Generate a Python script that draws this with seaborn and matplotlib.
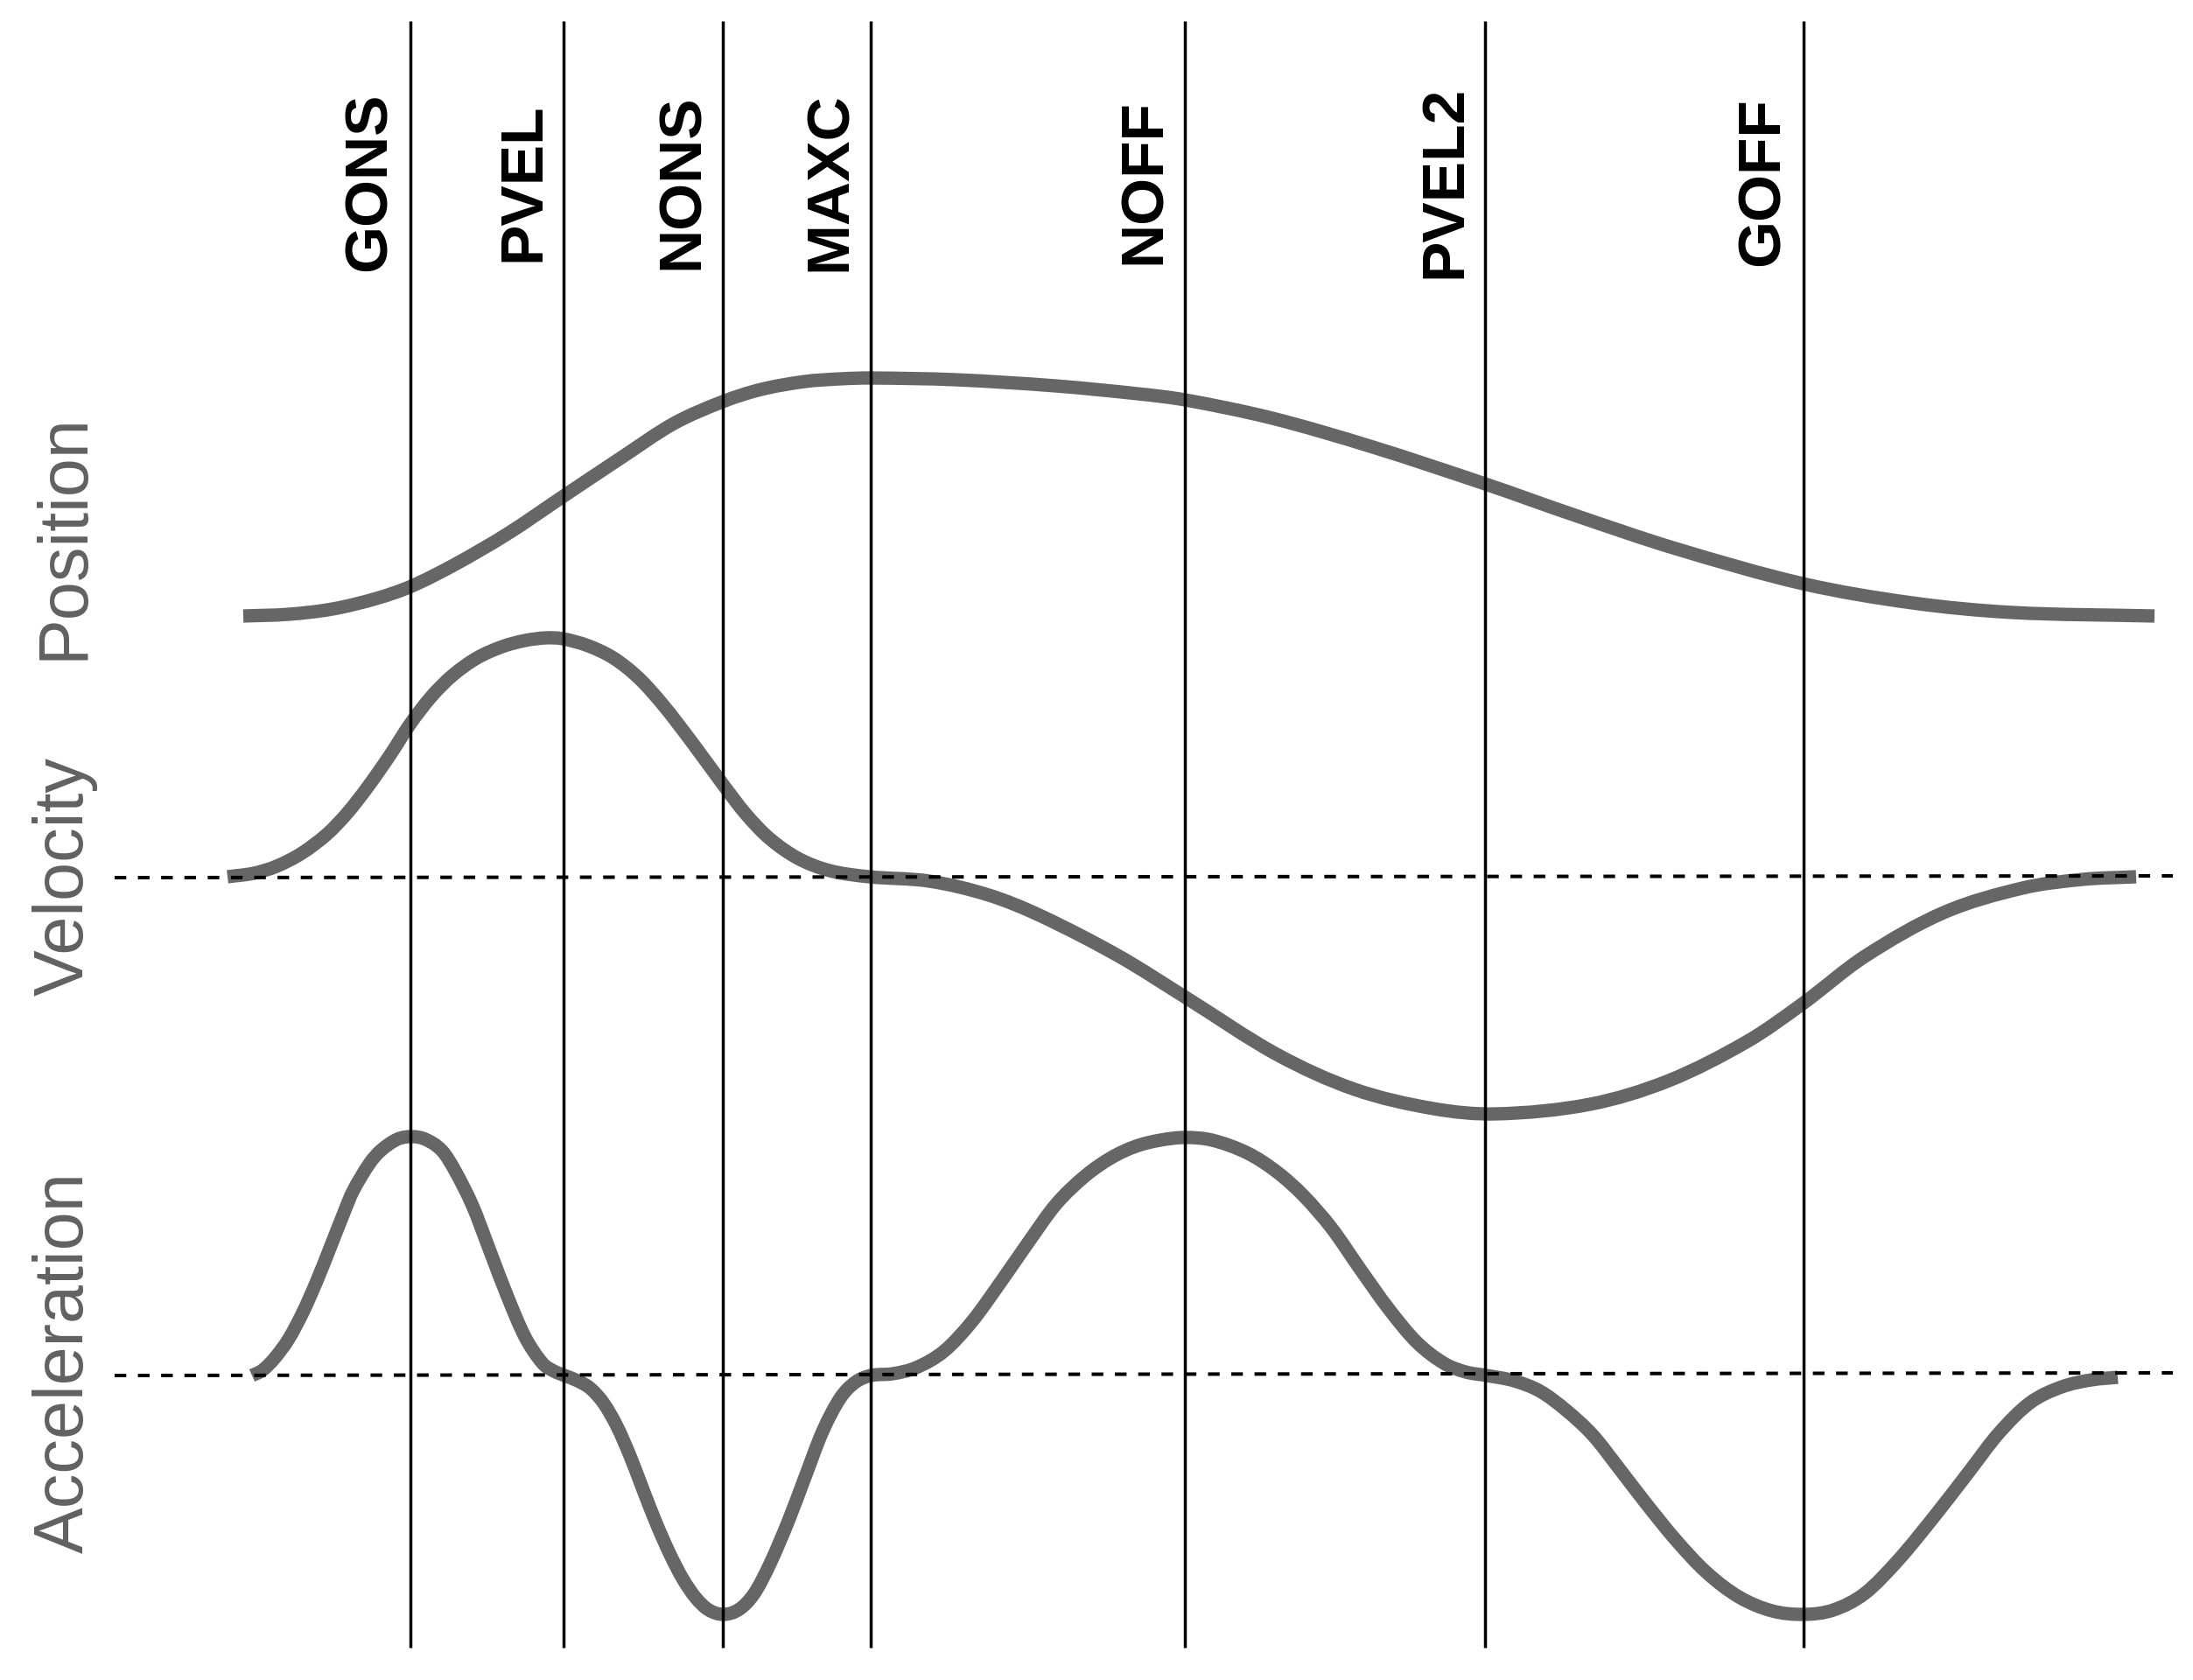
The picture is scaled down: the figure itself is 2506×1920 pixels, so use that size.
import matplotlib
matplotlib.use("Agg")
import matplotlib.pyplot as plt
from matplotlib.path import Path
from matplotlib.patches import PathPatch
import pandas as pd
import seaborn as sns

# ---- data (x = time, y = image-space value) ----
event_names = ["GONS", "PVEL", "NONS", "MAXC", "NOFF", "PVEL2", "GOFF"]
event_x = [469, 644, 826, 995, 1354, 1697, 2061]

row_labels = ["Position", "Velocity", "Acceleration"]
row_label_y = [613, 1001, 1557]

pos_t = [278, 330, 380, 430, 470, 520, 580, 644, 710, 770, 826, 870, 920,
         960, 995, 1092, 1206, 1300, 1354, 1454, 1569, 1697, 1800, 1915,
         2060, 2185, 2300, 2462]
pos_v = [704, 702, 696, 684, 670, 645, 610, 567, 523, 484, 459, 445, 436,
         433, 432, 434, 441, 450, 457, 478, 511, 553, 589, 627,
         667, 689, 700, 704]

vel_t = [260, 290, 316, 345, 374, 397, 419, 445, 469, 493, 517, 545, 574,
         600, 624, 643, 672, 701, 730, 758, 792, 825, 852, 879, 912, 948,
         993, 1062, 1130, 1190, 1279, 1355, 1459, 1548, 1638, 1710, 1817,
         1907, 1997, 2060, 2131, 2221, 2311, 2380, 2441]
vel_v = [1002, 998, 990, 975, 953, 929, 901, 864, 827, 796, 772, 752, 739,
         732, 729, 730, 738, 752, 775, 806, 850, 895, 930, 958, 981, 995,
         1002, 1007, 1023, 1047, 1093, 1140, 1205, 1245, 1267, 1273, 1262,
         1235, 1190, 1147, 1093, 1043, 1015, 1005, 1002]

acc_t = [288, 300, 314, 330, 346, 362, 378, 393, 403, 422, 435, 454, 470,
         486, 505, 520, 540, 560, 580, 600, 620, 633, 645, 660, 675, 690,
         705, 720, 735, 750, 765, 780, 795, 810, 827, 845, 862, 880, 901,
         920, 940, 960, 977, 995, 1020, 1047, 1079, 1111, 1143, 1175, 1207,
         1240, 1270, 1298, 1326, 1354, 1385, 1426, 1460, 1490, 1522, 1554,
         1587, 1619, 1650, 1675, 1699, 1730, 1760, 1790, 1820, 1850, 1880,
         1915, 1950, 1987, 2025, 2061, 2095, 2131, 2170, 2212, 2250, 2284,
         2320, 2356, 2390, 2420]
acc_v = [1572, 1566, 1552, 1530, 1500, 1464, 1424, 1386, 1362, 1330, 1315,
         1302, 1299, 1302, 1315, 1338, 1378, 1430, 1482, 1528, 1558, 1567,
         1572, 1578, 1587, 1604, 1630, 1664, 1703, 1741, 1775, 1804, 1826,
         1840, 1845, 1839, 1821, 1787, 1738, 1688, 1636, 1598, 1580, 1572,
         1570, 1563, 1544, 1510, 1466, 1420, 1376, 1344, 1323, 1310, 1303,
         1300, 1303, 1318, 1340, 1367, 1404, 1450, 1496, 1534, 1558, 1568,
         1572, 1578, 1590, 1612, 1640, 1678, 1717, 1760, 1797, 1825, 1841,
         1845, 1840, 1821, 1782, 1731, 1682, 1638, 1603, 1585, 1577, 1574]

zero_t = [131, 2483]
vel_zero = [1003, 1001]
acc_zero = [1572, 1569]


def smooth_path(xs, ys):
    """Cubic Hermite (Bezier) path through the read points."""
    n = len(xs)
    m = []
    for i in range(n):
        if i == 0:
            m.append((ys[1] - ys[0]) / (xs[1] - xs[0]))
        elif i == n - 1:
            m.append((ys[-1] - ys[-2]) / (xs[-1] - xs[-2]))
        else:
            m.append((ys[i + 1] - ys[i - 1]) / (xs[i + 1] - xs[i - 1]))
    verts = [(xs[0], ys[0])]
    codes = [Path.MOVETO]
    for i in range(n - 1):
        h = xs[i + 1] - xs[i]
        verts += [(xs[i] + h / 3, ys[i] + m[i] * h / 3),
                  (xs[i + 1] - h / 3, ys[i + 1] - m[i + 1] * h / 3),
                  (xs[i + 1], ys[i + 1])]
        codes += [Path.CURVE4] * 3
    return Path(verts, codes)


# ---- figure ----
sns.set_theme(style="white")
plt.rcParams["font.family"] = ["Liberation Sans", "DejaVu Sans"]

fig = plt.figure(figsize=(25.06, 19.2), dpi=100)
ax = fig.add_axes([0, 0, 1, 1])

for ts, vs in [(pos_t, pos_v), (vel_t, vel_v), (acc_t, acc_v)]:
    ax.add_patch(PathPatch(smooth_path(ts, vs), facecolor="none",
                           edgecolor="#666666", lw=11, capstyle="butt",
                           joinstyle="round", zorder=2))

zero_df = pd.concat([
    pd.DataFrame({"t": zero_t, "v": vel_zero, "row": "velocity"}),
    pd.DataFrame({"t": zero_t, "v": acc_zero, "row": "acceleration"}),
], ignore_index=True)
sns.lineplot(data=zero_df, x="t", y="v", units="row", estimator=None,
             sort=False, color="black", lw=2.9, dashes=False,
             legend=False, ax=ax, zorder=3)
for ln in ax.get_lines():
    ln.set_linestyle((0, (3.3, 3.3)))

ax.vlines(event_x, 24, 1883, color="black", lw=2.5, zorder=4)

for name, x in zip(event_names, event_x):
    ax.text(x - 78, 208, name, rotation=90, ha="left", va="center",
            fontsize=50, fontweight="bold", color="black")

for lab, y in zip(row_labels, row_label_y):
    ax.text(37, y, lab, rotation=90, ha="left", va="center",
            fontsize=57, color="#616161")

ax.set_xlim(0, 2506)
ax.set_ylim(1920, 0)
ax.axis("off")

fig.savefig("out.png", dpi=100, facecolor="white")
